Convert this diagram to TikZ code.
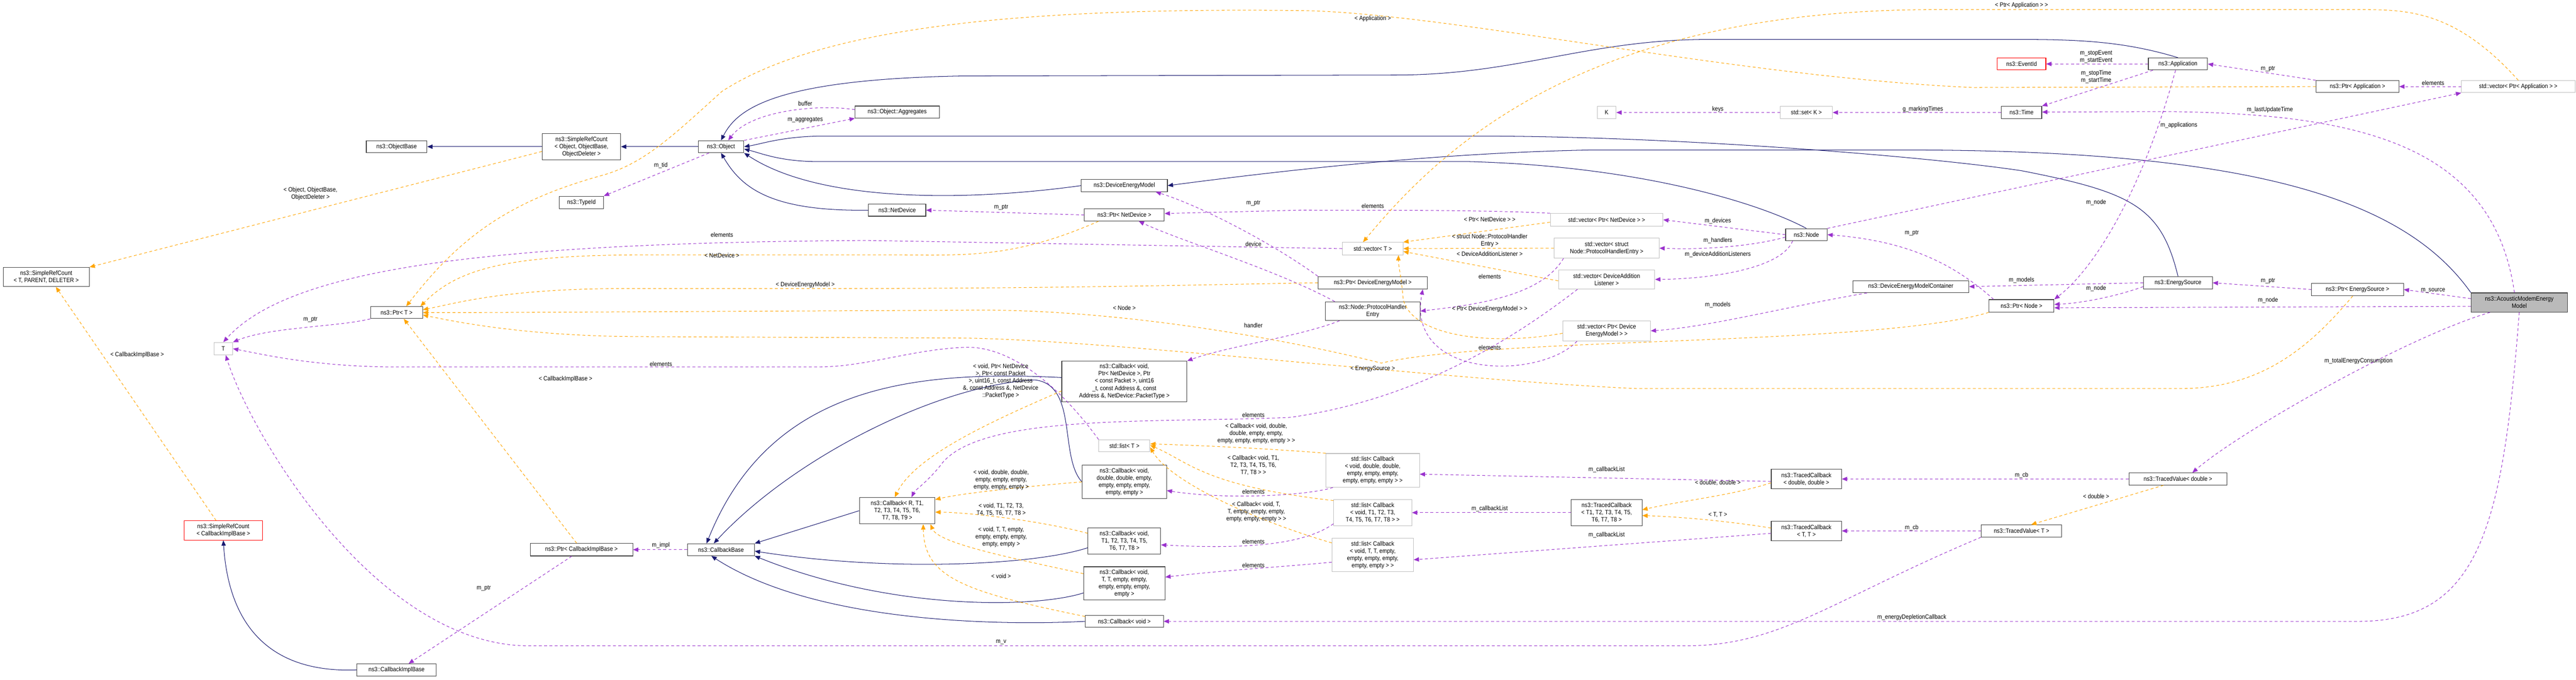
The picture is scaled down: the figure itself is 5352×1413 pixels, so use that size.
\documentclass[tikz,border=0pt]{standalone}
\usepackage{fontspec}
\setmainfont{Liberation Sans}[FakeStretch=0.88]
\usetikzlibrary{arrows.meta}
\definecolor{inhc}{HTML}{191970}
\definecolor{usec}{HTML}{9A32CD}
\definecolor{tplc}{HTML}{FFA500}
\definecolor{bordc}{HTML}{404040}
\begin{document}
\begin{tikzpicture}[x=1pt,y=-1pt,
  every node/.style={font=\fontsize{13}{15}\selectfont, inner sep=2pt},
  bx/.style={draw=bordc, line width=1.2pt, fill=white, align=center, inner sep=1pt},
  gbx/.style={bx, draw=black!25},
  rbx/.style={bx, draw=red},
  lb/.style={align=center, inner sep=0pt},
  inh/.style={draw=inhc, line width=1.1pt, -{Triangle[length=11pt,width=9pt]}},
  use/.style={draw=usec, line width=1.1pt, dash pattern=on 6pt off 5pt, -{Triangle[length=11pt,width=9pt]}},
  tpl/.style={draw=tplc, line width=1.1pt, dash pattern=on 6pt off 5pt, -{Triangle[length=11pt,width=9pt]}}]
\useasboundingbox (0,0) rectangle (5352,1413);
\fill[white] (0,0) rectangle (5352,1413);
% nodes
\node[bx, minimum width=126, minimum height=25] (ObjectBase) at (824,305) {ns3::ObjectBase};
\node[bx, minimum width=163, minimum height=55] (SRCObj) at (1208,305) {ns3::SimpleRefCount\\< Object, ObjectBase,\\ ObjectDeleter >};
\node[bx, minimum width=92, minimum height=26] (TypeId) at (1208,421) {ns3::TypeId};
\node[bx, minimum width=179, minimum height=40] (SRCT) at (96,576) {ns3::SimpleRefCount\\< T, PARENT, DELETER >};
\node[bx, minimum width=108, minimum height=25] (PtrT) at (824,650) {ns3::Ptr< T >};
\node[gbx, minimum width=39, minimum height=26] (T) at (464,725) {T};
\node[rbx, minimum width=163, minimum height=40] (SRCCIB) at (464,1103) {ns3::SimpleRefCount\\< CallbackImplBase >};
\node[bx, minimum width=213, minimum height=26] (PtrCIB) at (1208,1143) {ns3::Ptr< CallbackImplBase >};
\node[bx, minimum width=165, minimum height=25] (CIB) at (824,1393) {ns3::CallbackImplBase};
\node[bx, minimum width=95, minimum height=25] (Object) at (1498,305) {ns3::Object};
\node[bx, minimum width=175, minimum height=25] (Aggr) at (1864,233) {ns3::Object::Aggregates};
\node[bx, minimum width=179, minimum height=25] (DEM) at (2336,386) {ns3::DeviceEnergyModel};
\node[bx, minimum width=119, minimum height=25] (NetDevice) at (1864,437) {ns3::NetDevice};
\node[bx, minimum width=166, minimum height=25] (PtrND) at (2336,447) {ns3::Ptr< NetDevice >};
\node[gbx, minimum width=39, minimum height=26] (K) at (3338,234) {K};
\node[gbx, minimum width=108, minimum height=26] (SetK) at (3753,234) {std::set< K >};
\node[gbx, minimum width=126, minimum height=26] (VecT) at (2852,517) {std::vector< T >};
\node[gbx, minimum width=234, minimum height=26] (VecPND) at (3338,457) {std::vector< Ptr< NetDevice > >};
\node[gbx, minimum width=218, minimum height=41] (VecPHE) at (3338,516) {std::vector< struct\\ Node::ProtocolHandlerEntry >};
\node[gbx, minimum width=200, minimum height=40] (VecDAL) at (3338,581) {std::vector< DeviceAddition\\Listener >};
\node[gbx, minimum width=182, minimum height=42] (VecPDEM) at (3338,688) {std::vector< Ptr< Device\\EnergyModel > >};
\node[bx, minimum width=86, minimum height=25] (Node) at (3753,488) {ns3::Node};
\node[bx, minimum width=227, minimum height=26] (PtrDEM) at (2852,588) {ns3::Ptr< DeviceEnergyModel >};
\node[bx, minimum width=197, minimum height=39] (PHE) at (2852,647) {ns3::Node::ProtocolHandler\\Entry};
\node[bx, minimum width=241, minimum height=25] (DEMC) at (3970,596) {ns3::DeviceEnergyModelContainer};
\node[rbx, minimum width=101, minimum height=25] (EventId) at (4200,133) {ns3::EventId};
\node[bx, minimum width=123, minimum height=25] (App) at (4525,133) {ns3::Application};
\node[bx, minimum width=172, minimum height=25] (PtrApp) at (4898,180) {ns3::Ptr< Application >};
\node[gbx, minimum width=236, minimum height=25] (VecPApp) at (5232,180) {std::vector< Ptr< Application > >};
\node[bx, minimum width=84, minimum height=26] (Time) at (4200,234) {ns3::Time};
\node[bx, minimum width=143, minimum height=26] (ES) at (4525,588) {ns3::EnergySource};
\node[bx, minimum width=191, minimum height=26] (PtrES) at (4898,602) {ns3::Ptr< EnergySource >};
\node[bx, fill=black!27, minimum width=200, minimum height=40] (Acoustic) at (5234,629) {ns3::AcousticModemEnergy\\Model};
\node[bx, minimum width=135, minimum height=26] (PtrNode) at (4200,636) {ns3::Ptr< Node >};
\node[bx, minimum width=260, minimum height=84] (CbND) at (2336,793) {ns3::Callback< void,\\ Ptr< NetDevice >, Ptr\\< const Packet >, uint16\\\_t, const Address \&, const\\ Address \&, NetDevice::PacketType >};
\node[gbx, minimum width=106, minimum height=25] (ListT) at (2336,927) {std::list< T >};
\node[bx, minimum width=175, minimum height=70] (CbDD) at (2336,1002) {ns3::Callback< void,\\ double, double, empty,\\ empty, empty, empty,\\ empty, empty >};
\node[bx, minimum width=157, minimum height=55] (CbR) at (1864,1062) {ns3::Callback< R, T1,\\ T2, T3, T4, T5, T6,\\ T7, T8, T9 >};
\node[bx, minimum width=151, minimum height=55] (CbT18) at (2336,1125) {ns3::Callback< void,\\ T1, T2, T3, T4, T5,\\ T6, T7, T8 >};
\node[bx, minimum width=169, minimum height=69] (CbTT) at (2336,1213) {ns3::Callback< void,\\ T, T, empty, empty,\\ empty, empty, empty,\\ empty >};
\node[bx, minimum width=162, minimum height=25] (CbV) at (2336,1292) {ns3::Callback< void >};
\node[bx, minimum width=139, minimum height=25] (CbBase) at (1498,1143) {ns3::CallbackBase};
\node[gbx, minimum width=194, minimum height=70] (ListDD) at (2852,978) {std::list< Callback\\< void, double, double,\\ empty, empty, empty,\\ empty, empty, empty > >};
\node[gbx, minimum width=162, minimum height=55] (ListT18) at (2852,1066) {std::list< Callback\\< void, T1, T2, T3,\\ T4, T5, T6, T7, T8 > >};
\node[gbx, minimum width=169, minimum height=69] (ListTT) at (2852,1154) {std::list< Callback\\< void, T, T, empty,\\ empty, empty, empty,\\ empty, empty > >};
\node[bx, minimum width=147, minimum height=55] (TC18) at (3338,1066) {ns3::TracedCallback\\< T1, T2, T3, T4, T5,\\ T6, T7, T8 >};
\node[bx, minimum width=146, minimum height=41] (TCDD) at (3753,996) {ns3::TracedCallback\\< double, double >};
\node[bx, minimum width=146, minimum height=40] (TCTT) at (3753,1104) {ns3::TracedCallback\\< T, T >};
\node[bx, minimum width=204, minimum height=25] (TVD) at (4525,996) {ns3::TracedValue< double >};
\node[bx, minimum width=167, minimum height=25] (TVT) at (4200,1104) {ns3::TracedValue< T >};

\begin{scope}[on background layer/.style={}]
% inheritance
\draw[inh] (SRCObj.west) -- (ObjectBase.east);
\draw[inh] (Object.west) -- (SRCObj.east);
\draw[inh] (App.north) .. controls (4420,88) and (4330,82) .. (4200,82) -- (3550,82) .. controls (3300,82) and (3150,156) .. (2900,156) -- (2000,158) .. controls (1600,165) and (1530,230) .. (Object.north);
\draw[inh] (Node.north) .. controls (3650,420) and (3400,345) .. (3050,336) -- (1700,336) .. controls (1620,336) and (1580,318) .. ([yshift=-5pt]Object.east);
\draw[inh] (ES.north) .. controls (4490,430) and (4430,400) .. (4200,355) .. controls (4000,325) and (3500,285) .. (3100,283) -- (1700,283) .. controls (1620,285) and (1580,300) .. (Object.east);
\draw[inh] (Acoustic.north west) .. controls (5000,420) and (4700,316) .. (4000,312) -- (3300,312) .. controls (3000,318) and (2700,350) .. (DEM.east);
\draw[inh] (DEM.west) .. controls (2000,420) and (1700,420) .. (Object.south east);
\draw[inh] (NetDevice.west) .. controls (1600,440) and (1540,390) .. (Object.south);
\draw[inh] (CIB.west) .. controls (560,1400) and (475,1300) .. (SRCCIB.south);
\draw[inh] ([yshift=8pt]CbND.west) .. controls (1900,770) and (1600,800) .. ([xshift=-30pt]CbBase.north);
\draw[inh] (CbDD.west) .. controls (2200,950) and (2240,800) .. (2150,790) .. controls (1950,800) and (1650,950) .. ([xshift=-15pt]CbBase.north);
\draw[inh] (CbR.west) -- (CbBase.north east);
\draw[inh] ([yshift=-14pt]CbT18.west) .. controls (2150,1175) and (1850,1190) .. ([yshift=-3pt]CbBase.east);
\draw[inh] ([yshift=-20pt]CbTT.west) .. controls (2150,1265) and (1850,1270) .. (CbBase.south east);
\draw[inh] (CbV.west) .. controls (2100,1300) and (1700,1300) .. ([xshift=-20pt]CbBase.south);
% usage
\draw[use] (Object.north east) -- (Aggr.south west);
\draw[use] ([yshift=5pt]Aggr.west) .. controls (1700,216) and (1560,230) .. ([xshift=15pt]Object.north);
\draw[use] ([xshift=-25pt]Object.south) -- (TypeId.north east);
\draw[use] (PtrND.west) -- (NetDevice.east);
\draw[use] (PtrT.south west) .. controls (700,680) and (560,680) .. (T.north east);
\draw[use] (VecT.west) -- (1800,500) .. controls (1000,505) and (600,560) .. (T.north);
\draw[use] (ListT.north west) .. controls (2200,800) and (2100,722) .. (2010,722) .. controls (1900,725) and (1800,763) .. (1700,763) -- (800,763) .. controls (650,760) and (560,740) .. (T.east);
\draw[use] (CbBase.west) -- (PtrCIB.east);
\draw[use] ([xshift=-20pt]PtrCIB.south) -- ([xshift=25pt]CIB.north);
\draw[use] (TVT.south west) .. controls (3800,1250) and (3700,1343) .. (3500,1343) -- (1100,1343) .. controls (780,1343) and (520,900) .. ([xshift=5pt]T.south);
\draw[use] (Acoustic.south) .. controls (5200,1100) and (5150,1292) .. (4900,1292) -- (CbV.east);
\draw[use] (VecPND.north west) .. controls (3100,437) and (2900,437) .. (2700,437) -- ([yshift=3pt]PtrND.east);
\draw[use] (PtrDEM.north west) .. controls (2650,510) and (2500,430) .. ([xshift=-25pt]DEM.south east);
\draw[use] ([xshift=20pt]PHE.north west) .. controls (2650,560) and (2450,500) .. ([xshift=30pt]PtrND.south);
\draw[use] ([xshift=30pt]PHE.south west) .. controls (2700,700) and (2550,720) .. (CbND.north east);
\draw[use] (Node.west) -- (VecPND.east);
\draw[use] ([yshift=-5pt]Node.west) .. controls (3650,510) and (3550,520) .. (VecPHE.east);
\draw[use] ([xshift=15pt]Node.south west) .. controls (3700,560) and (3550,580) .. (VecDAL.east);
\draw[use] (Node.north east) -- (VecPApp.south west);
\draw[use] ([xshift=10pt]PtrNode.north west) .. controls (4050,540) and (3950,500) .. (Node.east);
\draw[use] ([xshift=20pt]VecPHE.south west) .. controls (3200,620) and (3050,635) .. (PHE.east);
\draw[use] ([xshift=30pt]VecPDEM.south west) .. controls (3200,790) and (2920,790) .. ([xshift=-10pt]PtrDEM.south east);
\draw[use] ([xshift=40pt]VecDAL.south west) .. controls (3150,700) and (2950,830) .. (2680,868) .. controls (2400,880) and (2050,860) .. (1960,960) .. controls (1930,1000) and (1900,1020) .. ([xshift=30pt]CbR.north);
\draw[use] ([xshift=30pt]DEMC.south west) .. controls (3700,640) and (3550,680) .. (VecPDEM.east);
\draw[use] (ES.west) -- (DEMC.east);
\draw[use] ([yshift=-8pt]ES.west) .. controls (4400,615) and (4330,630) .. ([yshift=3pt]PtrNode.east);
\draw[use] ([xshift=-5pt]App.south) .. controls (4450,400) and (4350,560) .. (PtrNode.north east);
\draw[use] ([yshift=-8pt]Acoustic.west) -- ([yshift=-4pt]PtrNode.east);
\draw[use] (PtrES.west) -- (ES.east);
\draw[use] ([yshift=8pt]Acoustic.west) -- (PtrES.east);
\draw[use] (App.west) -- (EventId.east);
\draw[use] ([xshift=10pt]App.south west) -- (Time.north east);
\draw[use] (SetK.west) -- (K.east);
\draw[use] (Time.west) -- (SetK.east);
\draw[use] ([xshift=-10pt]Acoustic.north) .. controls (5180,300) and (4900,236) .. (4500,232) -- ([yshift=1pt]Time.east);
\draw[use] (PtrApp.north west) .. controls (4800,165) and (4700,150) .. (App.east);
\draw[use] (VecPApp.west) -- (PtrApp.east);
\draw[use] ([xshift=40pt]Acoustic.south west) .. controls (5000,700) and (4650,900) .. ([xshift=30pt]TVD.north);
\draw[use] (TVD.west) -- (TCDD.east);
\draw[use] (TVT.west) -- (TCTT.east);
\draw[use] ([yshift=-5pt]TCDD.west) -- ([yshift=-8pt]ListDD.east);
\draw[use] (TC18.west) -- (ListT18.east);
\draw[use] ([yshift=-5pt]TCTT.west) -- ([yshift=-10pt]ListTT.east);
\draw[use] ([xshift=15pt]ListDD.south west) .. controls (2720,1030) and (2550,1040) .. ([yshift=-18pt]CbDD.east);
\draw[use] ([xshift=0pt,yshift=5pt]ListT18.south west) .. controls (2700,1140) and (2550,1140) .. ([yshift=-8pt]CbT18.east);
\draw[use] ([yshift=-15pt]ListTT.west) .. controls (2650,1180) and (2550,1185) .. ([yshift=13pt]CbTT.east);
% templates
\draw[tpl] ([yshift=-10pt]SRCObj.west) -- (SRCT.north east);
\draw[tpl] ([xshift=-15pt]SRCCIB.north) -- ([xshift=20pt]SRCT.south);
\draw[tpl] ([xshift=-10pt]PtrCIB.north) -- ([xshift=15pt]PtrT.south);
\draw[tpl] (PtrApp.west) -- (4100,182) .. controls (3600,160) and (3000,25) .. (2700,22) .. controls (2100,15) and (1700,60) .. (1500,190) .. controls (1400,280) and (1340,340) .. (1250,365) .. controls (1050,420) and (950,500) .. ([xshift=20pt]PtrT.north);
\draw[tpl] (VecPApp.north) .. controls (5100,20) and (5000,20) .. (4900,20) -- (4020,20) .. controls (3300,20) and (3000,300) .. ([xshift=-20pt]VecT.north);
\draw[tpl] ([xshift=30pt]PtrND.south west) .. controls (2100,540) and (2000,530) .. (1850,530) -- (1340,530) .. controls (1050,530) and (950,560) .. ([xshift=-5pt]PtrT.north east);
\draw[tpl] (PtrDEM.west) .. controls (2500,592) and (2200,600) .. (1700,600) -- (1300,600) .. controls (1050,600) and (950,630) .. ([yshift=6pt]PtrT.east);
\draw[tpl] (PtrNode.south west) .. controls (3900,720) and (3100,700) .. (2870,755) .. controls (2650,700) and (2300,640) .. (2000,645) -- (1000,650) -- (PtrT.east);
\draw[tpl] ([xshift=-10pt]PtrES.south) .. controls (4800,720) and (4700,808) .. (4530,808) -- (3400,808) .. controls (3000,790) and (2300,706) .. (2000,703) -- (1340,700) .. controls (1100,700) and (950,670) .. ([yshift=-5pt]PtrT.east);
\draw[tpl] ([yshift=-5pt]VecPND.west) -- (VecT.north east);
\draw[tpl] (VecPHE.west) -- (VecT.east);
\draw[tpl] ([yshift=-3pt]VecDAL.west) -- ([yshift=-6pt]VecT.east);
\draw[tpl] ([yshift=-5pt]VecPDEM.west) .. controls (3100,720) and (2930,700) .. (2915,620) .. controls (2912,580) and (2905,550) .. ([xshift=-10pt]VecT.south east);
\draw[tpl] ([yshift=-20pt]CbND.west) .. controls (2050,880) and (1900,950) .. ([xshift=-5pt]CbR.north);
\draw[tpl] (CbDD.west) .. controls (2150,1010) and (2000,1025) .. ([yshift=-5pt]CbR.north east);
\draw[tpl] ([yshift=-12pt]CbT18.north west) .. controls (2150,1080) and (2000,1065) .. ([yshift=-3pt]CbR.east);
\draw[tpl] ([yshift=-15pt]CbTT.north west) .. controls (2100,1160) and (1950,1130) .. ([xshift=-10pt]CbR.south east);
\draw[tpl] ([yshift=-3pt]CbV.north west) .. controls (2000,1230) and (1920,1200) .. ([xshift=-25pt]CbR.south east);
\draw[tpl] (ListDD.north west) .. controls (2600,930) and (2450,925) .. ([yshift=4pt]ListT.east);
\draw[tpl] ([yshift=-3pt]ListT18.north west) .. controls (2500,1010) and (2470,960) .. ([yshift=1pt]ListT.east);
\draw[tpl] ([yshift=-10pt]ListTT.north west) .. controls (2600,1080) and (2430,1000) .. ([yshift=-3pt]ListT.east);
\draw[tpl] ([yshift=-8pt]TCDD.west) .. controls (3600,1030) and (3500,1040) .. ([yshift=6pt]TC18.east);
\draw[tpl] ([yshift=6pt]TCTT.west) .. controls (3600,1085) and (3500,1075) .. ([yshift=-6pt]TC18.east);
\draw[tpl] ([xshift=-30pt]TVD.south) -- ([xshift=20pt]TVT.north);
\end{scope}

% labels
\node[lb] (l1) at (645,403) {< Object, ObjectBase,\\ObjectDeleter >};
\node[lb] (l2) at (645,664) {m\_ptr};
\node[lb] (l3) at (285,738) {< CallbackImplBase >};
\node[lb] (l4) at (1175,788) {< CallbackImplBase >};
\node[lb] (l5) at (1005,1223) {m\_ptr};
\node[lb] (l6) at (1673,215) {buffer};
\node[lb] (l7) at (1673,249) {m\_aggregates};
\node[lb] (l8) at (1373,344) {m\_tid};
\node[lb] (l9) at (2080,431) {m\_ptr};
\node[lb] (l10) at (2604,423) {m\_ptr};
\node[lb] (l11) at (1500,488) {elements};
\node[lb] (l12) at (2604,508) {device};
\node[lb] (l13) at (1500,531) {< NetDevice >};
\node[lb] (l14) at (1673,592) {< DeviceEnergyModel >};
\node[lb] (l15) at (2336,640) {< Node >};
\node[lb] (l16) at (2604,677) {handler};
\node[lb] (l17) at (2852,39) {< Application >};
\node[lb] (l18) at (3569,227) {keys};
\node[lb] (l19) at (3995,227) {g\_markingTimes};
\node[lb] (l20) at (2852,428) {elements};
\node[lb] (l21) at (3095,456) {< Ptr< NetDevice > >};
\node[lb] (l22) at (3095,500) {< struct Node::ProtocolHandler\\Entry >};
\node[lb] (l23) at (3095,528) {< DeviceAdditionListener >};
\node[lb] (l24) at (3095,575) {elements};
\node[lb] (l25) at (3095,643) {< Ptr< DeviceEnergyModel > >};
\node[lb] (l26) at (3569,460) {m\_devices};
\node[lb] (l27) at (3569,500) {m\_handlers};
\node[lb] (l28) at (3569,529) {m\_deviceAdditionListeners};
\node[lb] (l29) at (3569,634) {m\_models};
\node[lb] (l30) at (3972,485) {m\_ptr};
\node[lb] (l31) at (4200,11) {< Ptr< Application > >};
\node[lb] (l32) at (4355,118) {m\_stopEvent\\m\_startEvent};
\node[lb] (l33) at (4712,143) {m\_ptr};
\node[lb] (l34) at (4355,160) {m\_stopTime\\m\_startTime};
\node[lb] (l35) at (5055,172) {elements};
\node[lb] (l36) at (4716,228) {m\_lastUpdateTime};
\node[lb] (l37) at (4527,260) {m\_applications};
\node[lb] (l38) at (4355,421) {m\_node};
\node[lb] (l39) at (4200,583) {m\_models};
\node[lb] (l40) at (4355,600) {m\_node};
\node[lb] (l41) at (4712,584) {m\_ptr};
\node[lb] (l42) at (5055,604) {m\_source};
\node[lb] (l43) at (4712,624) {m\_node};
\node[lb] (l44) at (2079,792) {< void, Ptr< NetDevice\\>, Ptr< const Packet\\>, uint16\_t, const Address\\\&, const Address \&, NetDevice\\::PacketType >};
\node[lb] (l45) at (1373,757) {elements};
\node[lb] (l46) at (1373,1134) {m\_impl};
\node[lb] (l47) at (2080,998) {< void, double, double,\\empty, empty, empty,\\empty, empty, empty >};
\node[lb] (l48) at (2080,1060) {< void, T1, T2, T3,\\T4, T5, T6, T7, T8 >};
\node[lb] (l49) at (2080,1117) {< void, T, T, empty,\\empty, empty, empty,\\empty, empty >};
\node[lb] (l50) at (2080,1198) {< void >};
\node[lb] (l51) at (2080,1335) {m\_v};
\node[lb] (l52) at (2604,863) {elements};
\node[lb] (l53) at (2610,902) {< Callback< void, double,\\double, empty, empty,\\empty, empty, empty, empty > >};
\node[lb] (l54) at (2604,967) {< Callback< void, T1,\\T2, T3, T4, T5, T6,\\T7, T8 > >};
\node[lb] (l55) at (2604,1022) {elements};
\node[lb] (l56) at (2610,1064) {< Callback< void, T,\\T, empty, empty, empty,\\empty, empty, empty > >};
\node[lb] (l57) at (2604,1126) {elements};
\node[lb] (l58) at (2604,1175) {elements};
\node[lb] (l59) at (3095,723) {elements};
\node[lb] (l60) at (2852,767) {< EnergySource >};
\node[lb] (l61) at (3338,976) {m\_callbackList};
\node[lb] (l62) at (3569,1004) {< double, double >};
\node[lb] (l63) at (3095,1058) {m\_callbackList};
\node[lb] (l64) at (3569,1071) {< T, T >};
\node[lb] (l65) at (3338,1112) {m\_callbackList};
\node[lb] (l66) at (3972,1097) {m\_cb};
\node[lb] (l67) at (3972,1284) {m\_energyDepletionCallback};
\node[lb] (l68) at (4900,751) {m\_totalEnergyConsumption};
\node[lb] (l69) at (4200,988) {m\_cb};
\node[lb] (l70) at (4355,1032) {< double >};
\end{tikzpicture}
\end{document}
